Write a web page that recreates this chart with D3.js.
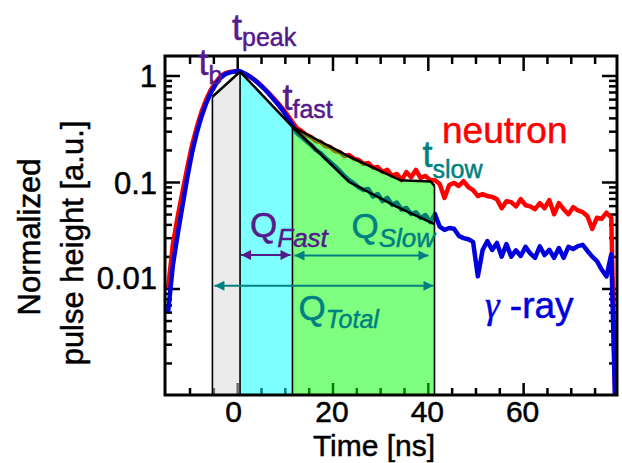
<!DOCTYPE html>
<html>
<head>
<meta charset="utf-8">
<script src="https://cdn.jsdelivr.net/npm/d3@7"></script>
<style>
  body { margin: 0; background: #fff; }
  svg text { font-family: "Liberation Sans", Arial, sans-serif; stroke: currentColor; stroke-width: 0.5px; }
</style>
</head>
<body>
<div id="chart"></div>
<script>
// sample times [ns]
const timeNs = [-14.5, -13.5, -12.5, -11.5, -10.5, -9.5, -8.5, -7.5, -6.5, -5.5,
    -4.5, -3.5, -2.5, -1.5, -0.5, 0.5, 1.5, 2.5, 3.5, 4.5,
    5.5, 6.5, 7.5, 8.5, 9.5, 10.5, 11.5, 12.5, 13.5, 14.5,
    15.5, 16.5, 17.5, 18.5, 19.5, 20.5, 21.5, 22.5, 23.5, 24.5,
    25.5, 26.5, 27.5, 28.5, 29.5, 30.5, 31.5, 32.5, 33.5, 34.5,
    35.5, 36.5, 37.5, 38.5, 39.5, 40.5, 41.5, 42.5, 43.5, 44.5,
    45.5, 46.5, 47.5, 48.5, 49.5, 50.5, 51.5, 52.5, 53.5, 54.5,
    55.5, 56.5, 57.5, 58.5, 59.5, 60.5, 61.5, 62.5, 63.5, 64.5,
    65.5, 66.5, 67.5, 68.5, 69.5, 70.5, 71.5, 72.5, 73.5, 74.5,
    75.5, 76.5, 77.5, 78.5, 79.5];

// normalized pulse heights
const neutron = [0.01, 0.026, 0.047, 0.08, 0.135, 0.22, 0.325, 0.455, 0.595, 0.74,
    0.865, 0.98, 1.05, 1.08, 1.09, 1.09, 1.04, 0.99, 0.92, 0.845,
    0.77, 0.695, 0.62, 0.555, 0.49, 0.43, 0.37, 0.321, 0.301, 0.276,
    0.264, 0.242, 0.237, 0.218, 0.213, 0.195, 0.191, 0.175, 0.179, 0.165,
    0.161, 0.148, 0.151, 0.136, 0.138, 0.124, 0.13, 0.114, 0.119, 0.104,
    0.124, 0.111, 0.13, 0.109, 0.114, 0.104, 0.104, 0.0958, 0.0707, 0.0937,
    0.098, 0.0917, 0.102, 0.0897, 0.0838, 0.0738, 0.077, 0.0738, 0.0722, 0.069,
    0.0567, 0.0661, 0.0647, 0.059, 0.069, 0.0605, 0.059, 0.0555, 0.0633, 0.0567,
    0.0676, 0.0498, 0.0633, 0.0555, 0.0498, 0.058, 0.054, 0.0521, 0.0477, 0.0363,
    0.0462, 0.0452, 0.0515, 0.0462, 0.0004];

const gamma = [0.006, 0.0165, 0.032, 0.059, 0.108, 0.186, 0.287, 0.41, 0.548, 0.695,
    0.827, 0.95, 1.03, 1.07, 1.09, 1.1, 1.05, 0.99, 0.917, 0.84,
    0.763, 0.685, 0.608, 0.54, 0.474, 0.408, 0.347, 0.288, 0.265, 0.242,
    0.223, 0.2, 0.187, 0.168, 0.154, 0.141, 0.127, 0.114, 0.104, 0.097,
    0.089, 0.084, 0.086, 0.073, 0.077, 0.066, 0.071, 0.061, 0.064, 0.055,
    0.057, 0.05, 0.052, 0.046, 0.049, 0.042, 0.05, 0.038, 0.0355, 0.037,
    0.0364, 0.0312, 0.0297, 0.029, 0.0274, 0.013, 0.023, 0.0279, 0.023, 0.0268,
    0.0199, 0.0261, 0.0199, 0.0228, 0.0202, 0.0246, 0.0214, 0.0194, 0.0249, 0.0206,
    0.0231, 0.0194, 0.024, 0.0194, 0.0246, 0.0235, 0.025, 0.0257, 0.0225, 0.0199,
    0.0181, 0.015, 0.013, 0.021, 0.0004];

// characteristic times [ns]
const tB = -5.2, tPeak = 0.6, tFast = 11.6, tSlow = 41.4;

// piecewise fits (black lines)
const riseFitT = [tB, tPeak];
const riseFitV = [0.632, 1.085];
const fastFitT = [tPeak, tFast];
const fastFitV = [1.085, 0.33];
const slowNeutronT = [tFast, 23.6, 34.2, 40.6, tSlow];
const slowNeutronV = [0.33, 0.172, 0.104, 0.101, 0.092];
const slowGammaT = [tFast, 23.5, 33.4, 41.3];
const slowGammaV = [0.33, 0.1, 0.0586, 0.0405];

// axis ticks
const xMajor = [0, 20, 40, 60];
const yMajor = [1, 0.1, 0.01];

const W = 622, H = 463;
const svg = d3.select("#chart").append("svg")
    .attr("width", W)
    .attr("height", H);

const x = d3.scaleLinear().domain([-15.15, 79.7]).range([165, 617]);
const y = d3.scaleLog().domain([0.001, 1.524]).range([395, 56]);
const yBottom = y.domain()[0];

const xMinor = d3.range(-10, 80, 5).filter(d => !xMajor.includes(d));
const yMinor = [];
[0.001, 0.01, 0.1].forEach(dec => {
    for (let k = 2; k <= 9; k++) yMinor.push(+(dec * k).toPrecision(2));
});

const purple = "#551a8b", teal = "#008080";

svg.append("defs").append("clipPath").attr("id", "plotClip")
    .append("rect")
    .attr("x", 165).attr("y", 56).attr("width", 452).attr("height", 339);

// ticks (inward on all sides)
function tickAxis(axis, transform, size, values) {
    const g = svg.append("g")
        .attr("transform", transform)
        .call(axis.tickValues(values).tickSize(-size).tickFormat(""));
    g.select(".domain").remove();
    g.selectAll("line").attr("stroke", "#000").attr("stroke-width", 2.5);
    return g;
}
tickAxis(d3.axisBottom(x), "translate(0,395)", 7, xMinor);
tickAxis(d3.axisTop(x), "translate(0,56)", 8, xMinor);
tickAxis(d3.axisTop(x), "translate(0,56)", 15, xMajor);
tickAxis(d3.axisLeft(y), "translate(165,0)", 7, yMinor);
tickAxis(d3.axisRight(y), "translate(617,0)", 8, yMinor);
tickAxis(d3.axisRight(y), "translate(617,0)", 15, yMajor);

// labelled axes
const xAxisG = svg.append("g")
    .attr("transform", "translate(0,395)")
    .call(d3.axisBottom(x).tickValues(xMajor).tickSize(-12).tickPadding(6).tickFormat(d3.format("d")));
xAxisG.select(".domain").remove();
xAxisG.selectAll("line").attr("stroke", "#000").attr("stroke-width", 2.5);
xAxisG.selectAll("text").attr("font-size", 30).attr("fill", "#000")
    .attr("dx", d => d === 0 ? -4 : -1)
    .style("font-family", "'Liberation Sans', Arial, sans-serif");

const yAxisG = svg.append("g")
    .attr("transform", "translate(165,0)")
    .call(d3.axisLeft(y).tickValues(yMajor).tickSize(-15).tickPadding(8).tickFormat(d => String(d)));
yAxisG.select(".domain").remove();
yAxisG.selectAll("line").attr("stroke", "#000").attr("stroke-width", 2.5);
yAxisG.selectAll("text").attr("font-size", 31).attr("fill", "#000")
    .attr("dy", d => d === 0.01 ? "0em" : "0.36em")
    .style("font-family", "'Liberation Sans', Arial, sans-serif");

// axis titles
svg.append("text")
    .attr("x", 374).attr("y", 456)
    .attr("text-anchor", "middle")
    .attr("font-size", 30)
    .text("Time [ns]");

const yTitle = svg.append("text")
    .attr("transform", "translate(40,240) rotate(-90)")
    .attr("text-anchor", "middle")
    .attr("font-size", 31);
yTitle.append("tspan").attr("x", 3).attr("y", 0).text("Normalized");
yTitle.append("tspan").attr("x", -3).attr("y", 43).text("pulse height [a.u.]");

// waveforms
const wave = vals => timeNs.map((t, i) => ({ t: t, v: vals[i] }));
const line = d3.line().x(d => x(d.t)).y(d => y(d.v));

const curves = svg.append("g").attr("clip-path", "url(#plotClip)");
curves.append("path")
    .datum(wave(neutron))
    .attr("d", line)
    .attr("fill", "none")
    .attr("stroke", "#ff0000")
    .attr("stroke-width", 4.5)
    .attr("stroke-linejoin", "round");
curves.append("path")
    .datum(wave(gamma))
    .attr("d", line)
    .attr("fill", "none")
    .attr("stroke", "#0000dd")
    .attr("stroke-width", 4.5)
    .attr("stroke-linejoin", "round");

// integration regions
const pts = (ts, vs) => ts.map((t, i) => ({ t: t, v: vs[i] }));
const area = d3.area().x(d => x(d.t)).y0(y(yBottom)).y1(d => y(d.v));

svg.append("path").datum(pts(riseFitT, riseFitV)).attr("d", area)
    .attr("fill", "rgb(215,215,215)").attr("fill-opacity", 0.5);
svg.append("path").datum(pts(fastFitT, fastFitV)).attr("d", area)
    .attr("fill", "rgb(0,255,255)").attr("fill-opacity", 0.5);
svg.append("path").datum(pts(slowNeutronT, slowNeutronV)).attr("d", area)
    .attr("fill", "rgb(0,255,0)").attr("fill-opacity", 0.5);

// region edges
const edges = [[tB, riseFitV[0]], [tPeak, fastFitV[0]], [tFast, fastFitV[1]], [tSlow, slowNeutronV[slowNeutronV.length - 1]]];
svg.selectAll(".edge")
    .data(edges)
    .enter().append("line")
    .attr("class", "edge")
    .attr("x1", d => x(d[0])).attr("x2", d => x(d[0]))
    .attr("y1", y(yBottom)).attr("y2", d => y(d[1]))
    .attr("stroke", "#000")
    .attr("stroke-width", 1.6);

// fitted lines
[[riseFitT, riseFitV], [fastFitT, fastFitV], [slowNeutronT, slowNeutronV], [slowGammaT, slowGammaV]]
    .forEach(f => {
        svg.append("path")
            .datum(pts(f[0], f[1]))
            .attr("d", line)
            .attr("fill", "none")
            .attr("stroke", "#000")
            .attr("stroke-width", 2.5)
            .attr("stroke-linejoin", "round");
    });

// frame
svg.append("rect")
    .attr("x", 165).attr("y", 56).attr("width", 452).attr("height", 339)
    .attr("fill", "none")
    .attr("stroke", "#000")
    .attr("stroke-width", 3);

// arrows
const defs = svg.select("defs");
function marker(id, color) {
    defs.append("marker")
        .attr("id", id)
        .attr("viewBox", "0 0 10 10")
        .attr("refX", 10).attr("refY", 5)
        .attr("markerWidth", 13).attr("markerHeight", 10)
        .attr("markerUnits", "userSpaceOnUse")
        .attr("orient", "auto-start-reverse")
        .append("path")
        .attr("d", "M0,0 L10,5 L0,10 z")
        .attr("fill", color);
}
marker("headP", purple);
marker("headT", teal);

function arrow(t0, t1, v, dx0, dx1, color, id) {
    svg.append("line")
        .attr("x1", x(t0) + dx0).attr("x2", x(t1) + dx1)
        .attr("y1", y(v)).attr("y2", y(v))
        .attr("stroke", color)
        .attr("stroke-width", 2)
        .attr("marker-start", `url(#${id})`)
        .attr("marker-end", `url(#${id})`);
}
arrow(tPeak, tFast, 0.0206, 1, -2, purple, "headP");
arrow(tFast, tSlow, 0.0204, 2, -6, teal, "headT");
arrow(tB, tSlow, 0.0106, 2, -1, teal, "headT");

// annotations
function subLabel(px, py, main, sub, color, mainSize, subSize, subDy, italicSub) {
    const t = svg.append("text")
        .attr("x", px).attr("y", py)
        .attr("fill", color)
        .style("color", color)
        .attr("font-size", mainSize);
    t.append("tspan").text(main);
    t.append("tspan")
        .attr("dy", subDy)
        .attr("font-size", subSize)
        .attr("font-style", italicSub ? "italic" : "normal")
        .text(sub);
}
subLabel(x(tPeak) - 8, 40, "t", "peak", purple, 36, 25, 6, false);
subLabel(x(tB) - 14, 75, "t", "b", purple, 36, 25, 9, false);
subLabel(x(tFast) - 10, 110, "t", "fast", purple, 36, 25, 8, false);
subLabel(x(tSlow) - 12, 167, "t", "slow", teal, 36, 25, 11, false);

subLabel(x(tPeak) + 10, 237, "Q", "Fast", purple, 35, 26, 10, true);
subLabel(x(tFast) + 59, 238, "Q", "Slow", teal, 35, 26, 9, true);
subLabel(x(tB) + 86, 320, "Q", "Total", teal, 35, 25, 8, true);

svg.append("text")
    .attr("x", 442).attr("y", 143)
    .attr("font-size", 37)
    .attr("fill", "#ff0000")
    .style("color", "#ff0000")
    .text("neutron");

const gLabel = svg.append("text")
    .attr("x", 485).attr("y", 318)
    .attr("font-size", 37)
    .attr("fill", "#0000dd")
    .style("color", "#0000dd");
gLabel.append("tspan")
    .attr("font-style", "italic")
    .style("font-family", "'Liberation Serif', 'DejaVu Serif', serif")
    .text("γ");
gLabel.append("tspan").text(" -ray");
</script>
</body>
</html>
